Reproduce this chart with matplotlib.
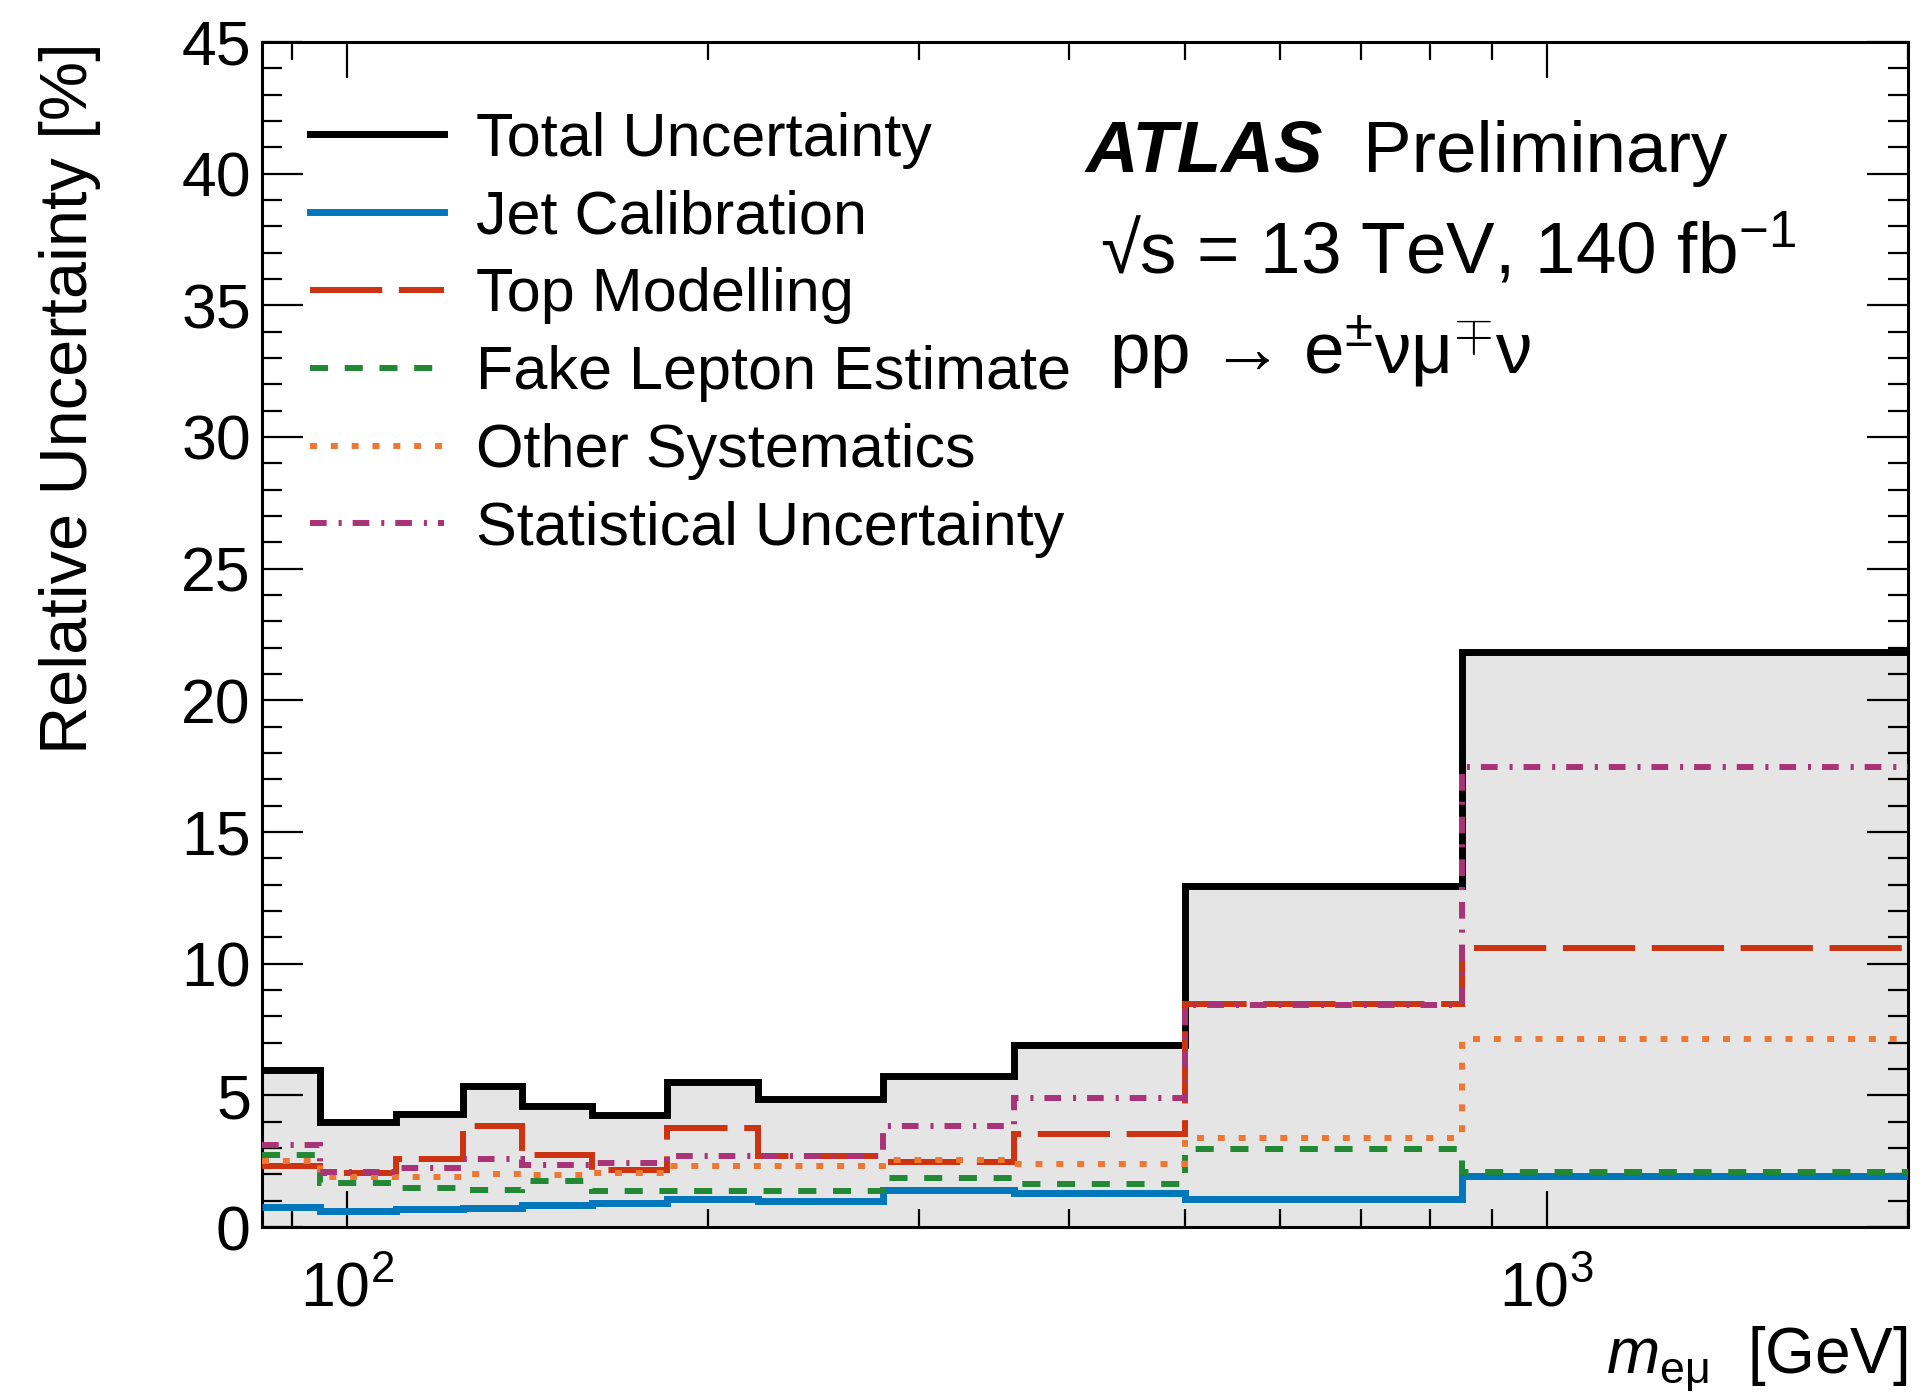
import matplotlib
matplotlib.use('Agg')
import matplotlib.pyplot as plt
from matplotlib.lines import Line2D
from matplotlib.ticker import MultipleLocator, NullFormatter, LogLocator

plt.rcParams['font.family'] = ['Liberation Sans', 'DejaVu Sans']
plt.rcParams['mathtext.fontset'] = 'custom'
plt.rcParams['mathtext.rm'] = 'Liberation Sans'
plt.rcParams['mathtext.it'] = 'Liberation Sans:italic'
plt.rcParams['mathtext.bf'] = 'Liberation Sans:bold'
plt.rcParams['lines.scale_dashes'] = False

# m_emu bin edges [GeV]
edges = [85, 95, 110, 125, 140, 160, 185, 220, 280, 360, 500, 850, 2000]

# relative uncertainties per bin [%]
total = [5.95, 4.0, 4.3, 5.35, 4.6, 4.25, 5.5, 4.85, 5.75, 6.9, 12.95, 21.85]
jet_calib = [0.75, 0.6, 0.68, 0.72, 0.85, 0.9, 1.05, 1.0, 1.41, 1.28, 1.05, 1.92]
top_model = [2.3, 2.05, 2.58, 3.82, 2.72, 2.15, 3.75, 2.68, 2.46, 3.55, 8.45, 10.6]
fake_lep = [2.72, 1.68, 1.5, 1.42, 1.75, 1.38, 1.38, 1.38, 1.85, 1.63, 2.95, 2.08]
other_syst = [2.5, 1.9, 1.9, 2.0, 1.97, 2.04, 2.3, 2.3, 2.55, 2.38, 3.38, 7.15]
stat = [3.12, 2.08, 2.25, 2.6, 2.35, 2.45, 2.7, 2.7, 3.82, 4.9, 8.42, 17.45]

labels = ['Total Uncertainty', 'Jet Calibration', 'Top Modelling',
          'Fake Lepton Estimate', 'Other Systematics', 'Statistical Uncertainty']

# colour, width, dash pattern (points) for each component
styles = [
    ('#0077bb', 5.0, None),
    ('#cc3311', 4.3, (0, (52, 12))),
    ('#228833', 4.3, (0, (13, 12))),
    ('#ee7733', 4.3, (0, (5, 10))),
    ('#aa3377', 4.3, (0, (12, 8.6, 2.2, 7.9))),
]
components = [jet_calib, top_model, fake_lep, other_syst, stat]

fig = plt.figure(figsize=(19.22, 13.98), dpi=100)
ax = fig.add_axes([0.1363, 0.1223, 0.8564, 0.8477])

ax.stairs(total, edges, fill=True, color='#e5e5e5', baseline=0, zorder=1)
ax.stairs(total, edges, color='black', lw=5.0, baseline=None, zorder=3)

handles = [Line2D([], [], color='black', lw=5.0)]
for vals, (col, lw, ls) in zip(components, styles):
    kw = dict(color=col, lw=lw, baseline=None, zorder=4)
    if ls is not None:
        kw['linestyle'] = ls
    ax.stairs(vals, edges, **kw)
    handles.append(Line2D([], [], color=col, lw=lw,
                          linestyle=ls if ls is not None else '-'))

ax.set_xscale('log')
ax.set_xlim(85, 2000)
ax.set_ylim(0, 45)
ax.yaxis.set_major_locator(MultipleLocator(5))
ax.yaxis.set_minor_locator(MultipleLocator(1))
ax.xaxis.set_minor_locator(LogLocator(base=10, subs=range(2, 10)))
ax.xaxis.set_minor_formatter(NullFormatter())

ax.tick_params(which='both', direction='in', top=True, right=True, labelsize=45)
ax.tick_params(axis='y', which='major', length=29.5, width=1.6, pad=8)
ax.tick_params(axis='y', which='minor', length=14.5, width=1.6)
ax.tick_params(axis='x', which='major', length=26, width=1.6, pad=24)
ax.tick_params(axis='x', which='minor', length=13, width=1.6)
for sp in ax.spines.values():
    sp.set_linewidth(2.2)

ax.set_ylabel('Relative Uncertainty [%]', fontsize=48, loc='top')
ax.yaxis.set_label_coords(-0.098, 1.0)
ax.set_xlabel(r'$m_{\mathrm{e\mu}}$  [GeV]', fontsize=46, loc='right', labelpad=4)

ax.legend(handles, labels, loc='upper left', bbox_to_anchor=(0.029, 0.941),
          frameon=False, fontsize=44, handlelength=2.2, handletextpad=0.52,
          labelspacing=0.34, borderpad=0, borderaxespad=0)

fig.text(1085 / 1922, 1 - 172 / 1398, 'ATLAS', fontsize=52.5,
         fontweight='bold', fontstyle='italic', va='baseline')
fig.text(1363 / 1922, 1 - 172 / 1398, 'Preliminary', fontsize=52.5, va='baseline')
fig.text(1100 / 1922, 1 - 273 / 1398, '√s = 13 TeV, 140 fb$^{\\mathrm{-1}}$',
         fontsize=52.5, va='baseline')
fig.text(1109 / 1922, 1 - 374 / 1398, 'pp → e$^{\\pm}$νμ$^{\\mp}$ν',
         fontsize=52.5, va='baseline')

fig.savefig('out.png', dpi=100)
